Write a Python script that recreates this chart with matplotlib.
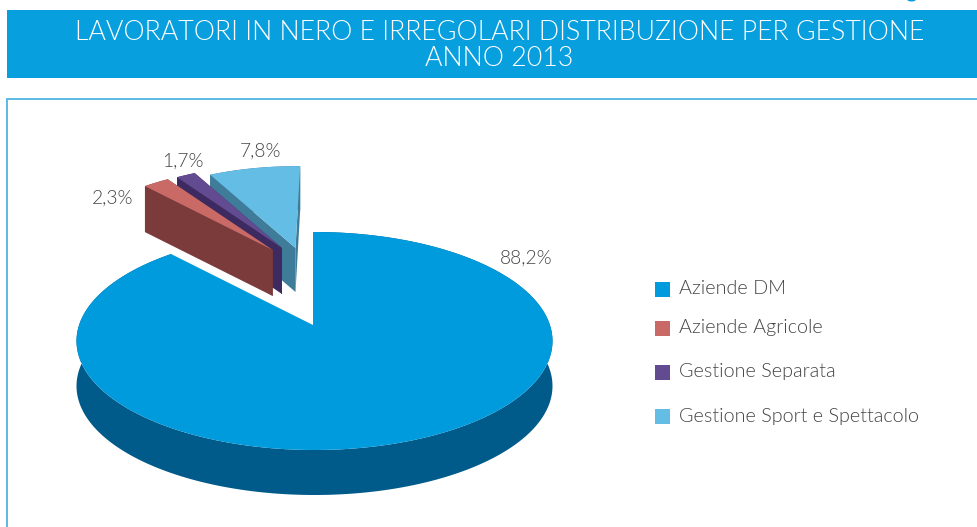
import numpy as np
import matplotlib
matplotlib.use('Agg')
import matplotlib.pyplot as plt
from matplotlib import font_manager
from matplotlib.patches import Polygon, Rectangle, Ellipse

# Chart data
title_lines = ['LAVORATORI IN NERO E IRREGOLARI DISTRIBUZIONE PER GESTIONE', 'ANNO 2013']
categories = ['Aziende DM', 'Aziende Agricole', 'Gestione Separata', 'Gestione Sport e Spettacolo']
values = [88.2, 2.3, 1.7, 7.8]
value_labels = ['88,2%', '2,3%', '1,7%', '7,8%']

# Colours for top and side faces
top_colors = ['#009BDC', '#C96A66', '#624B91', '#63BDE5']
side_colors = ['#005A8A', '#7B3B3A', '#3D2A60', '#3E7C99']

# Layout in pixels of the output picture
apexes = [(313, 325), (272.7, 250), (282, 248), (295.5, 248)]
scales = [1.0, 0.90, 0.90, 0.88]
depths = [45, 46, 46, 44]
# The sport slice looks a bit wider in the perspective of the original
angle_pads = [0, 0, 0, 1.5]
label_pos = [(526, 258), (113, 198), (183, 161), (261, 151)]
legend_y = [289, 328, 372, 416.5]
ELL_OFFSET = (1.5, 16)
RX, RY = 238, 109

# weight='light' on the family name picks the hairline cut, so look for the file
light_files = [f.fname for f in font_manager.fontManager.ttflist if f.fname.endswith('Lato-Light.ttf')]
if light_files:
    text_font = font_manager.FontProperties(fname=light_files[0])
else:
    text_font = font_manager.FontProperties(family='Lato')

fig = plt.figure(figsize=(9.78, 5.27), dpi=100)
ax = fig.add_axes([0, 0, 1, 1])
ax.set_xlim(0, 978)
ax.set_ylim(527, 0)
ax.axis('off')


def rim_points(apex, scale, angles):
    # Ray from the apex to the ellipse rim, so the angle follows the perspective
    rx, ry = RX * scale, RY * scale
    ox = -ELL_OFFSET[0] * scale / rx
    oy = -ELL_OFFSET[1] * scale / ry
    pts = []
    for th in np.radians(angles):
        dx, dy = np.cos(th), -np.sin(th)
        b = ox * dx + oy * dy
        c = ox ** 2 + oy ** 2 - 1
        t = -b + np.sqrt(b ** 2 - c)
        pts.append((apex[0] + t * rx * dx, apex[1] + t * ry * dy))
    return np.array(pts)


def draw_wedge(i, start, end):
    apex = np.array(apexes[i], dtype=float)
    drop = np.array([0, depths[i]])
    rim = rim_points(apex, scales[i], np.linspace(start, end - angle_pads[i], 240))

    # Outer wall
    wall = np.vstack([rim, (rim + drop)[::-1]])
    ax.add_patch(Polygon(wall, closed=True, fc=side_colors[i], ec='none'))
    if i > 0:
        # Cut faces, the one on the far side goes first
        far = np.array([apex, rim[0], rim[0] + drop, apex + drop])
        near = np.array([apex, rim[-1], rim[-1] + drop, apex + drop])
        ax.add_patch(Polygon(far, closed=True, fc=side_colors[i], ec='none'))
        ax.add_patch(Polygon(near, closed=True, fc=side_colors[i], ec='none'))
    top = np.vstack([[apex], rim])
    ax.add_patch(Polygon(top, closed=True, fc=top_colors[i], ec='none'))


# Header bar, cropped logo piece and frame
ax.add_patch(Rectangle((7, 9.5), 971, 68.5, fc='#079FDE', ec='none'))
ax.add_patch(Ellipse((911.5, -0.5), 9, 4, fc='#079FDE', ec='none'))
ax.plot([7, 7, 978], [527, 98.5, 98.5], color='#4DB5E3', lw=1.3, solid_joinstyle='miter')
ax.text(500, 32, title_lines[0], color='white', fontproperties=text_font, fontsize=19.3, ha='center', va='center')
ax.text(499, 58, title_lines[1], color='white', fontproperties=text_font, fontsize=19.3, ha='center', va='center')

# Slices run clockwise from the top of the pie
sweeps = np.array(values) / sum(values) * 360
starts = 90 - np.concatenate([[0], np.cumsum(sweeps)[:-1]])
ends = starts - sweeps

draw_wedge(0, starts[0], ends[0])
for i in [3, 2, 1]:
    draw_wedge(i, starts[i], ends[i])

for (x, y), label in zip(label_pos, value_labels):
    ax.text(x, y, label, color='#444444', fontproperties=text_font, fontsize=13.8, ha='center', va='center')

# Legend
for y, name, color in zip(legend_y, categories, top_colors):
    ax.add_patch(Rectangle((655, y - 7.5), 15, 15, fc=color, ec='none'))
    ax.text(679, y, name, color='#444444', fontproperties=text_font, fontsize=14.25, ha='left', va='center')

fig.savefig('out.png', dpi=100, facecolor='white')
